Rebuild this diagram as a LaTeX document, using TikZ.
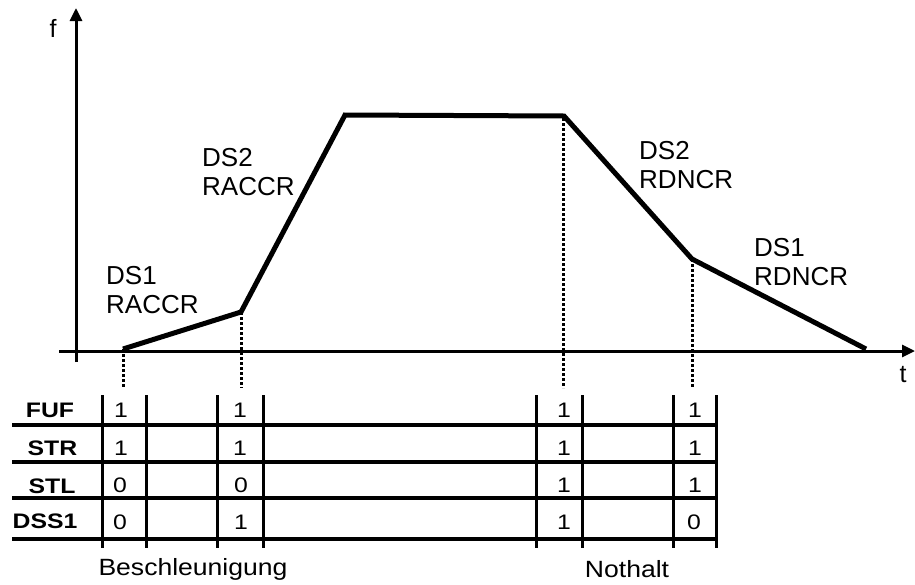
\documentclass[tikz,border=0pt]{standalone}
\usepackage{fontspec}
\setmainfont{Liberation Sans}
\newfontfamily\widefont[FakeStretch=1.13]{Liberation Sans}
\newfontfamily\tabfont[FakeStretch=1.18]{Liberation Sans}
\usetikzlibrary{arrows.meta}
\begin{document}
\begin{tikzpicture}[x=1pt,y=-1pt,
  axis/.style={line width=3pt,-{Triangle[length=13pt,width=12pt]}},
  curve/.style={line width=5pt,line join=miter},
  guide/.style={line width=3pt,dash pattern=on 3pt off 2pt},
  vrule/.style={line width=3pt},
  lbl/.style={inner sep=0pt,anchor=west,align=left,font=\fontsize{26}{29}\selectfont},
  big/.style={inner sep=0pt,font=\fontsize{25}{29}\selectfont},
  under/.style={inner sep=0pt,font=\widefont\fontsize{23.5}{27}\selectfont},
  rowlbl/.style={inner sep=0pt,font=\tabfont\fontsize{21}{25}\selectfont\bfseries},
  val/.style={inner sep=0pt,font=\tabfont\fontsize{21}{25}\selectfont}]
\useasboundingbox (0,0) rectangle (915,584);
% axes
\coordinate (yb) at (76,362);
\coordinate (yt) at (76,8);
\coordinate (xl) at (59,351);
\coordinate (xr) at (915,351);
\draw[axis] (yb) -- (yt);
\draw[axis] (xl) -- (xr);
\node[big] (f) at (53,28) {f};
\node[big] (t) at (903,375) {t};
% curve points
\coordinate (p0) at (123,349);
\coordinate (p1) at (241,312);
\coordinate (p2) at (345,115);
\coordinate (p3) at (564,116);
\coordinate (p4) at (692,259);
\coordinate (p5) at (866,349);
\draw[curve] (p0) -- (p1) -- (p2) -- (p3) -- (p4) -- (p5);
% guides
\coordinate (g0) at (123,388);
\coordinate (g1) at (241,388);
\coordinate (g3) at (563,388);
\coordinate (g4) at (692,388);
\coordinate (p3b) at (563,118);
\draw[guide] (p0) -- (g0);
\draw[guide] (p1) -- (g1);
\draw[guide] (p3b) -- (g3);
\draw[guide] (p4) -- (g4);
% labels
\node[lbl] (l1) at (106,290) {DS1\\RACCR};
\node[lbl] (l2) at (202,172) {DS2\\RACCR};
\node[lbl] (l3) at (639,165) {DS2\\RDNCR};
\node[lbl] (l4) at (754,262) {DS1\\RDNCR};
% table
\foreach \yy/\w in {425/3.3,462/3.3,498/3.3,539/4.2}
  \draw[line width=\w pt] (12,\yy) -- (717,\yy);
\foreach \xx in {102,146,217,263,536,582,673,716}
  \draw[vrule] (\xx,395) -- (\xx,548);
\node[rowlbl] (FUF) at (50,410) {FUF};
\node[rowlbl] (STR) at (52.5,448) {STR};
\node[rowlbl] (STL) at (52,486) {STL};
\node[rowlbl] (DSS) at (45,521) {DSS1};
\node[val] (a1) at (121,410) {1};
\node[val] (a2) at (121,448) {1};
\node[val] (a3) at (120,485) {0};
\node[val] (a4) at (120,522) {0};
\node[val] (b1) at (240,410) {1};
\node[val] (b2) at (240,448) {1};
\node[val] (b3) at (241,485) {0};
\node[val] (b4) at (241,522) {1};
\node[val] (c1) at (564,410) {1};
\node[val] (c2) at (564,448) {1};
\node[val] (c3) at (564,485) {1};
\node[val] (c4) at (564,522) {1};
\node[val] (d1) at (695,410) {1};
\node[val] (d2) at (695,448) {1};
\node[val] (d3) at (695,485) {1};
\node[val] (d4) at (694,522) {0};
\node[under] (besch) at (193,569) {Beschleunigung};
\node[under] (noth) at (627,569) {Nothalt};
\end{tikzpicture}
\end{document}
